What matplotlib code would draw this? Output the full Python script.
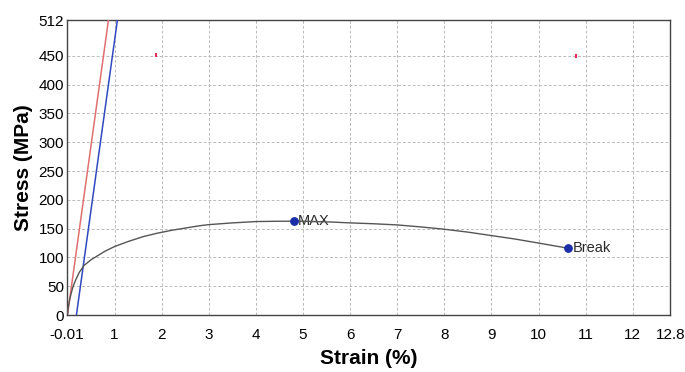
import matplotlib
matplotlib.use("Agg")
import matplotlib.pyplot as plt

plt.rcParams['font.family'] = ['Liberation Sans', 'DejaVu Sans']

# Stress-strain curve
strain = [0.0, 0.02, 0.05, 0.08, 0.12, 0.18, 0.25, 0.35, 0.5, 0.6, 0.8, 1.0, 1.3, 1.6, 1.9,
          2.2, 2.5, 2.8, 3.0, 3.5, 4.0, 4.4, 4.81, 5.2, 5.6, 6.0, 6.5, 7.0, 7.5, 8.0,
          8.5, 9.0, 9.5, 10.0, 10.63]
stress = [0.0, 15, 28, 38, 50, 62, 74, 86, 96, 101, 111, 119, 128, 136, 142,
          147, 151, 155, 157, 160, 162.3, 162.8, 163, 162.5, 161.5, 160, 158.5, 156.5, 153, 149,
          144, 138, 132, 125, 116]

# Elastic (red) and 0.2% offset (blue) lines
red_strain = [0.0, 0.87]
red_stress = [0.0, 512]
blue_strain = [0.19, 1.06]
blue_stress = [0.0, 512]

# Key points
pt_labels = ["MAX", "Break"]
pt_strain = [4.81, 10.63]
pt_stress = [163, 116]

# Small red marks
red_pt_strain = [1.88, 10.8]
red_pt_stress = [452, 449]

xticks = [-0.01, 1, 2, 3, 4, 5, 6, 7, 8, 9, 10, 11, 12, 12.8]
xticklabels = ["-0.01", "1", "2", "3", "4", "5", "6", "7", "8", "9", "10", "11", "12", "12.8"]
yticks = [0, 50, 100, 150, 200, 250, 300, 350, 400, 450, 512]
yticklabels = [str(v) for v in yticks]

fig = plt.figure(figsize=(6.85, 3.72), dpi=100)
ax = fig.add_axes([0.0978, 0.153, 0.881, 0.793])

ax.plot(red_strain, red_stress, color='#e07070', lw=1.1, zorder=3)
ax.plot(blue_strain, blue_stress, color='#3048c0', lw=1.1, zorder=3)
ax.plot(strain, stress, color='#555555', lw=1.0, zorder=4)
ax.scatter(pt_strain, pt_stress, s=28, color='#1a2ea8', zorder=5)
for lab, xs, ys in zip(pt_labels, pt_strain, pt_stress):
    ax.annotate(lab, (xs, ys), xytext=(3, 0), textcoords='offset points',
                va='center', ha='left', fontsize=10.5, color='#2a2a2a')
ax.scatter(red_pt_strain, red_pt_stress, s=6, marker='|', color='#e0305a', zorder=5)

ax.set_xlim(-0.01, 12.8)
ax.set_ylim(0, 512)
ax.set_xticks(xticks)
ax.set_xticklabels(xticklabels, fontsize=11)
ax.set_yticks(yticks)
ax.set_yticklabels(yticklabels, fontsize=11)
ax.tick_params(axis='x', length=0, pad=9)
ax.tick_params(axis='y', length=0, pad=2)
ax.grid(True, color='#bbbbbb', ls=(0, (3, 2)), lw=0.7)
for s in ax.spines.values():
    s.set_color('#444444')
    s.set_linewidth(1.0)

ax.set_xlabel("Strain (%)", fontsize=15, fontweight='bold', labelpad=5)
ax.set_ylabel("Stress (MPa)", fontsize=15, fontweight='bold', labelpad=4)

fig.savefig("out.png", dpi=100)
